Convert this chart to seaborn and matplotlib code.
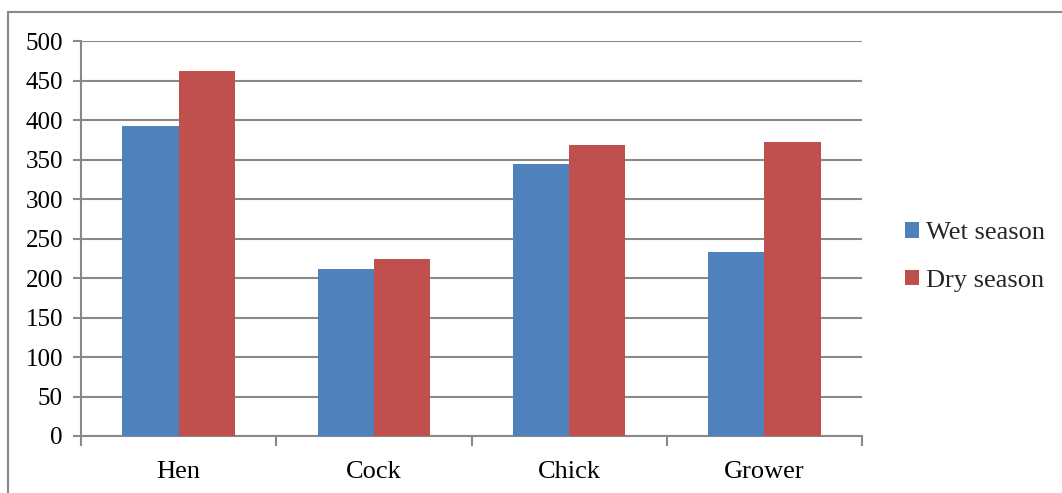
import matplotlib
matplotlib.use("Agg")
import matplotlib.pyplot as plt
from matplotlib.patches import Rectangle, Patch
from matplotlib.ticker import FixedLocator, NullFormatter
import seaborn as sns
import pandas as pd

# Counts per bird category and season
categories = ["Hen", "Cock", "Chick", "Grower"]
wet_season = [392, 211, 344, 233]
dry_season = [462, 224, 368, 372]
series_names = ["Wet season", "Dry season"]
y_ticks = [0, 50, 100, 150, 200, 250, 300, 350, 400, 450, 500]

df = pd.DataFrame({
    "Category": categories * 2,
    "Season": [series_names[0]] * len(categories) + [series_names[1]] * len(categories),
    "Count": wet_season + dry_season,
})

sns.set_theme(style="white")
plt.rcParams["font.family"] = ["Liberation Serif", "DejaVu Serif"]

W, H = 1062, 493
fig = plt.figure(figsize=(W / 100, H / 100), dpi=100)
ax = fig.add_axes([81 / W, 1 - 436 / H, (862 - 81) / W, (436 - 41) / H])

palette = {"Wet season": "#4F81BD", "Dry season": "#C0504D"}
sns.barplot(data=df, x="Category", y="Count", hue="Season", order=categories,
            hue_order=series_names, palette=palette, width=0.575, gap=0,
            saturation=1, edgecolor="none", linewidth=0, ax=ax, legend=False,
            zorder=3)

grid_col = "#898989"
ax.set_ylim(0, 500)
ax.set_xlim(-0.5, len(categories) - 0.5)
ax.set_yticks(y_ticks)
ax.set_yticklabels([str(v) for v in y_ticks])
ax.yaxis.grid(True, color=grid_col, linewidth=1.5, zorder=0)
ax.xaxis.grid(False)
ax.set_axisbelow(True)
ax.set_xlabel("")
ax.set_ylabel("")

for side in ["top", "right"]:
    ax.spines[side].set_visible(False)
for side in ["left", "bottom"]:
    ax.spines[side].set_color(grid_col)
    ax.spines[side].set_linewidth(1.5)

ax.tick_params(axis="y", which="major", length=6, width=1.5, color=grid_col,
               direction="out", left=True, labelsize=18, pad=7, labelcolor="black")
ax.tick_params(axis="x", which="major", length=0, labelsize=19, pad=18,
               labelcolor="black")
ax.xaxis.set_minor_locator(FixedLocator([i - 0.5 for i in range(len(categories) + 1)]))
ax.xaxis.set_minor_formatter(NullFormatter())
ax.tick_params(axis="x", which="minor", length=7, width=1.5, color=grid_col,
               direction="out", bottom=True)

handles = [Patch(facecolor=palette[s], edgecolor="none", label=s) for s in series_names]
fig.legend(handles=handles, loc="center left", bbox_to_anchor=(905 / W, 1 - 257 / H),
           frameon=False, fontsize=19, handlelength=0.52, handleheight=0.52,
           handletextpad=0.28, labelspacing=0.95, borderpad=0, borderaxespad=0)

# chart area border
fig.patches.append(Rectangle((8 / W, -0.1), 1.2, 1 - 12 / H + 0.1,
                             transform=fig.transFigure, fill=False,
                             edgecolor=grid_col, linewidth=1.5))

fig.savefig("out.png", dpi=100)
